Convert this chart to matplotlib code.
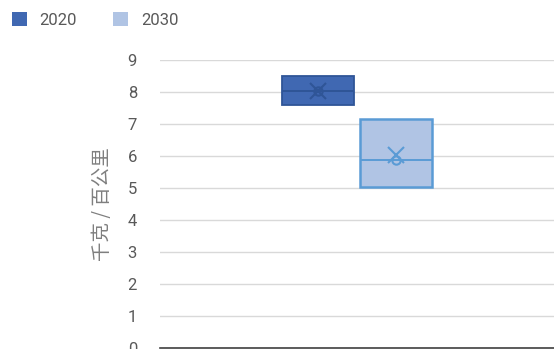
import numpy as np
import matplotlib.pyplot as plt
from matplotlib.patches import Patch

plt.rcParams['font.family'] = ['Roboto', 'DejaVu Sans']

# values (kg / 100 km)
series = ['2020', '2030']
q1 = [7.60, 5.02]
q3 = [8.50, 7.17]
medians = [8.03, 5.87]
means = [8.04, 6.04]
inner_points = [8.04, 5.87]
y_ticks = list(range(0, 10))

fill_colors = ['#4068B2', '#B0C4E4']
edge_colors = ['#2F5597', '#5A9BD5']
grey = '#595959'

fig = plt.figure(figsize=(5.54, 3.49), dpi=100)
ax = fig.add_axes([160 / 554, 1 / 349, 394 / 554, 288 / 349])

offsets = [-0.098, 0.098]
edge_widths = [1.3, 1.8]
for i, name in enumerate(series):
    stats = [dict(med=medians[i], q1=q1[i], q3=q3[i], whislo=q1[i], whishi=q3[i],
                  mean=means[i], fliers=[], label=name)]
    ax.bxp(stats, positions=[offsets[i]], widths=0.183, patch_artist=True,
           showmeans=True, showcaps=False, showfliers=False,
           boxprops=dict(facecolor=fill_colors[i], edgecolor=edge_colors[i],
                         linewidth=edge_widths[i]),
           medianprops=dict(color=edge_colors[i], linewidth=1.4),
           whiskerprops=dict(color=edge_colors[i], linewidth=0),
           meanprops=dict(marker='x', markeredgecolor=edge_colors[i], markersize=12,
                          markeredgewidth=1.5),
           manage_ticks=False, zorder=3)
    ax.plot(offsets[i], inner_points[i], marker='o', markersize=6, markerfacecolor='none',
            markeredgecolor=edge_colors[i], markeredgewidth=1.5, zorder=4)

ax.set_xlim(-0.5, 0.5)
ax.set_ylim(0, 9)
ax.set_yticks(y_ticks)
ax.set_xticks([])
ax.grid(axis='y', color='#D9D9D9', linewidth=1, zorder=0)
ax.set_axisbelow(True)
for s in ['top', 'right', 'left']:
    ax.spines[s].set_visible(False)
ax.spines['bottom'].set_color('#404040')
ax.spines['bottom'].set_linewidth(1.2)
ax.tick_params(axis='y', length=0, pad=16.5, labelsize=12, labelcolor=grey)
ax.set_ylabel('千克 / 百公里', family=['Noto Sans CJK SC', 'DejaVu Sans'],
              fontsize=14, color='#7F7F7F', fontweight='light', labelpad=10.5)

handles = [Patch(facecolor=fill_colors[i], edgecolor='none') for i in range(len(series))]
fig.legend(handles, series, loc='upper left', bbox_to_anchor=(0.0, 1.0), ncol=2,
           frameon=False, fontsize=12, labelcolor=grey, handlelength=0.9,
           handleheight=0.95, columnspacing=2.2, handletextpad=0.75,
           borderaxespad=0.3)

fig.savefig('out.png', dpi=100)
